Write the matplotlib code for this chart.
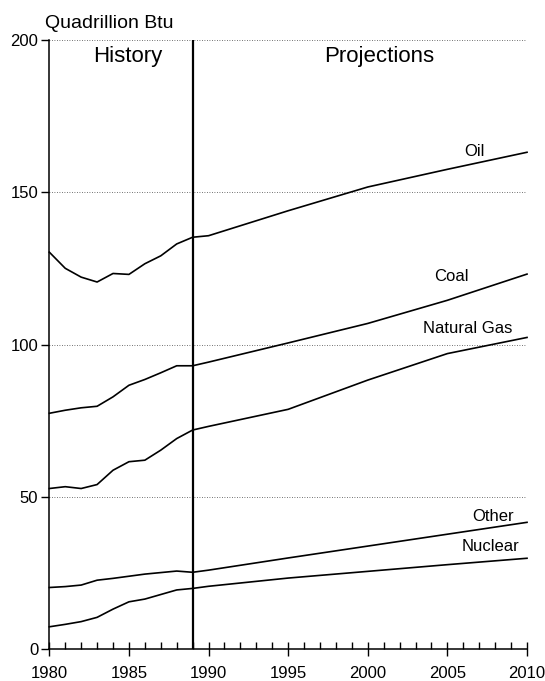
import pandas as pd
import matplotlib
matplotlib.use("Agg")
import matplotlib.pyplot as plt
from matplotlib.ticker import MultipleLocator

plt.rcParams['font.family'] = ['Liberation Sans', 'DejaVu Sans']

# consumption by fuel, quadrillion Btu
years = [1980, 1981, 1982, 1983, 1984, 1985, 1986, 1987, 1988, 1989,
         1990, 1995, 2000, 2005, 2010]
oil = [130.4, 125.1, 122.2, 120.6, 123.4, 123.1, 126.6, 129.2, 133.1, 135.3,
       135.8, 144.0, 151.8, 157.6, 163.2]
coal = [77.5, 78.5, 79.3, 79.8, 82.9, 86.7, 88.6, 90.8, 93.1, 93.1,
        94.3, 100.6, 107.0, 114.6, 123.2]
natural_gas = [52.8, 53.4, 52.8, 54.1, 58.8, 61.6, 62.1, 65.4, 69.2, 72.0,
               73.2, 78.8, 88.4, 97.1, 102.4]
other = [20.3, 20.6, 21.1, 22.7, 23.3, 24.0, 24.7, 25.2, 25.7, 25.3,
         26.0, 30.0, 33.9, 37.8, 41.7]
nuclear = [7.4, 8.2, 9.1, 10.5, 13.2, 15.6, 16.5, 18.0, 19.5, 20.0,
           20.7, 23.4, 25.6, 27.8, 29.9]

last_history_year = 1989

df = pd.DataFrame({'Oil': oil, 'Coal': coal, 'Natural Gas': natural_gas,
                   'Other': other, 'Nuclear': nuclear}, index=years)

# label anchor (year, value) for each series
label_pos = {
    'Oil': (2006.7, 163.5),
    'Coal': (2005.25, 122.5),
    'Natural Gas': (2006.3, 105.2),
    'Other': (2007.85, 43.7),
    'Nuclear': (2007.7, 33.7),
}

fig = plt.figure(figsize=(5.45, 6.81), dpi=100)
ax = fig.add_axes([0.0905, 0.0465, 0.8765, 0.8945])

for name in df.columns:
    ax.plot(df.index, df[name], color='black', lw=1.2, clip_on=False)
    x, y = label_pos[name]
    ax.text(x, y, name, fontsize=12, ha='center', va='center')

ax.axvline(last_history_year, color='black', lw=1.6)

ax.set_xlim(1980, 2010)
ax.set_ylim(0, 200)

ax.spines['top'].set_visible(False)
ax.spines['right'].set_visible(False)
ax.spines['left'].set_linewidth(1.1)
ax.spines['bottom'].set_linewidth(1.1)

ax.set_yticks([0, 50, 100, 150, 200])
ax.yaxis.grid(True, linestyle=(0, (1, 2)), color='#444444', lw=0.6)

ax.xaxis.set_major_locator(MultipleLocator(5))
ax.xaxis.set_minor_locator(MultipleLocator(1))
ax.tick_params(axis='x', which='major', direction='inout', length=10,
               width=1.0, labelsize=12, pad=7)
ax.tick_params(axis='x', which='minor', direction='in', length=5, width=1.0)
ax.tick_params(axis='y', direction='out', length=6, width=1.0,
               labelsize=12, pad=2)

ax.text(1984.9, 194.5, 'History', fontsize=16, ha='center', va='center')
ax.text(2000.7, 194.8, 'Projections', fontsize=16, ha='center', va='center')
fig.text(0.083, 0.966, 'Quadrillion Btu', fontsize=14, ha='left', va='center')

fig.savefig('out.png', dpi=100)
